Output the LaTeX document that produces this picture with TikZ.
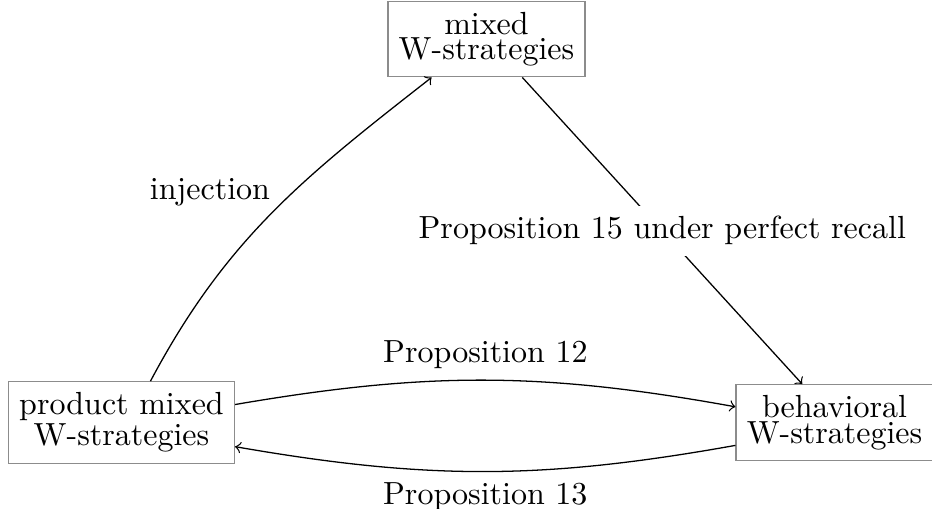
\documentclass[tikz,border=0pt]{standalone}
\newcommand\tightlines{\baselineskip=0pt\relax\lineskip=1pt\relax}
\begin{document}
\begin{tikzpicture}[x=0.3125pt,y=-0.3125pt,
  box/.style={draw=black!45,align=center,font=\tightlines},
  conn/.style={->}]
\useasboundingbox (0,0) rectangle (932,508);
\node[box] (T) at (486.5,39) {mixed\\W-strategies};
\node[box] (L) at (121.5,422.5) {product mixed\\W-strategies};
\node[box] (R) at (834.5,422.5) {behavioral\\W-strategies};
\draw[conn] (L.55) to[out=62,in=218] (T.215);
\node (inj) at (210,192) {injection};
\draw[conn] (T.313) -- node[fill=white] {Proposition 15 under perfect recall} (R.130);
\draw[conn] (L.9) to[bend left=10] node[above] {Proposition 12} (R.171);
\draw[conn] (R.193) to[bend left=10] node[below] {Proposition 13} (L.348);
\end{tikzpicture}
\end{document}
